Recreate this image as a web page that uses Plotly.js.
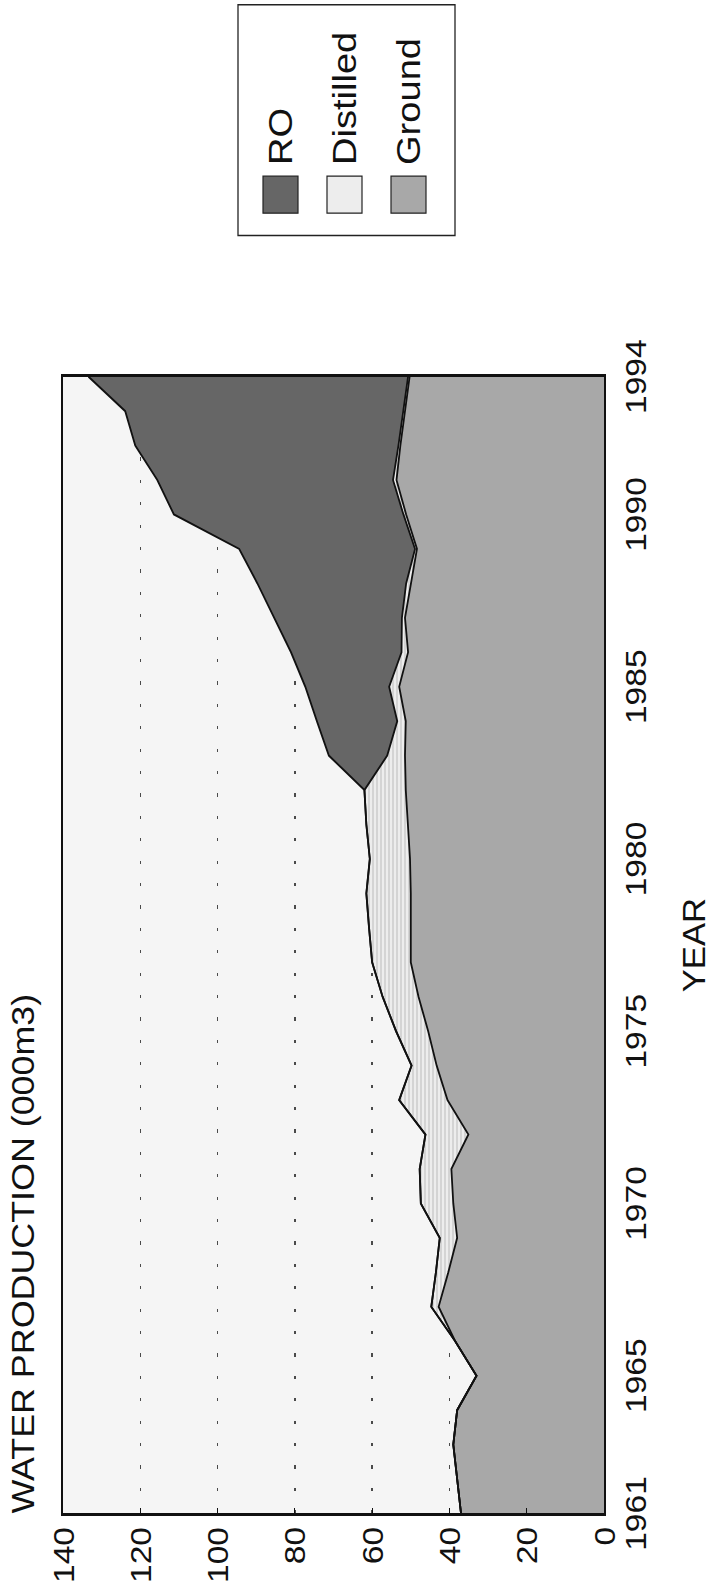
<!DOCTYPE html>
<html><head><meta charset="utf-8">
<script src="https://cdn.plot.ly/plotly-3.0.1.min.js"></script>
<style>
html,body{margin:0;padding:0;background:#fff;}
#wrap{position:relative;width:712px;height:1593px;overflow:hidden;background:#fff;}
#chart{position:absolute;left:0;top:0;width:1422px;height:712px;transform-origin:0 0;transform:translate(0px,1593px) rotate(-90deg) scale(1.12,1);}
</style></head><body>
<div id="wrap"><div id="chart"></div></div>
<script>
// ---- data ----
const years = [1961,1962,1963,1964,1965,1966,1967,1968,1969,1970,1971,1972,1973,1974,1975,1976,1977,1978,1979,1980,1981,1982,1983,1984,1985,1986,1987,1988,1989,1990,1991,1992,1993,1994];
const ground = [37,38,39,38,33,38.5,42.8,40.3,38,39,39.5,35.1,40.5,43.3,45.5,48,50,50,50,50.2,50.8,51.3,51.5,51.3,53,50.7,51.5,50,48.4,51.2,53.7,52.7,51.5,50.3];
const distilled = [0,0,0,0,0,0,1.9,3.2,4.5,8.4,8.2,11.1,12.5,6.5,8.3,9.3,10,10.8,11.5,10.4,10.7,10.7,4.6,2.2,2.6,1.7,0.8,1.2,0.5,0.7,0.9,0.5,0.4,0.4];
const ro = [0,0,0,0,0,0,0,0,0,0,0,0,0,0,0,0,0,0,0,0,0,0,15.1,20.8,21.7,28.6,33,38.5,45.5,59.4,61,68.1,72,82.7];
const seriesNames = ['RO','Distilled','Ground'];
const yearTicks = [1961,1965,1970,1975,1980,1985,1990,1994];
const valueTicks = [0,20,40,60,80,100,120,140];
const titleText = 'WATER PRODUCTION (000m3)';
const xTitle = 'YEAR';

// ---- styling ----
const colRO = '#666666', colDist = '#ededed', colGround = '#a8a8a8';
const W = 1422, H = 712, L = 71, R = 336, T = 63, B = 108;
const plotW = W - L - R, plotH = H - T - B;
const px = xi => (xi - L) / plotW;
const py = yo => 1 - (yo - T) / plotH;
const FONT = '"Liberation Sans", Arial, Helvetica, sans-serif';
const lineStyle = {color:'#111', width:1.8};

const traces = [
  {x: years, y: ground, name: seriesNames[2], type:'scatter', mode:'lines', stackgroup:'one',
   line: lineStyle, fillcolor: colGround, showlegend:false, hoverinfo:'x+y+name'},
  {x: years, y: distilled, name: seriesNames[1], type:'scatter', mode:'lines', stackgroup:'one',
   line: lineStyle, fillcolor: colDist,
   fillpattern:{shape:'-', bgcolor:colDist, fgcolor:'#c4c4c4', size:4, solidity:0.3},
   showlegend:false, hoverinfo:'x+y+name'},
  {x: years, y: ro, name: seriesNames[0], type:'scatter', mode:'lines', stackgroup:'one',
   line: lineStyle, fillcolor: colRO, showlegend:false, hoverinfo:'x+y+name'}
];

// legend drawn as shapes + text
const swatches = [
  {name: seriesNames[0], y0:263, y1:298, fill: colRO},
  {name: seriesNames[1], y0:327, y1:362, fill: colDist},
  {name: seriesNames[2], y0:391, y1:426, fill: colGround}
];
const shapes = [
  {type:'rect', xref:'paper', yref:'paper', x0:px(1212), x1:px(1418), y0:py(455), y1:py(238),
   line:{color:'#222', width:1.3}, fillcolor:'rgba(0,0,0,0)'}
];
const annotations = [];
swatches.forEach(s => {
  shapes.push({type:'rect', xref:'paper', yref:'paper', x0:px(1232), x1:px(1265), y0:py(s.y1), y1:py(s.y0),
    line:{color:'#222', width:1.2}, fillcolor:s.fill});
  annotations.push({xref:'paper', yref:'paper', x:px(1273), y:py((s.y0+s.y1)/2 - 1), xanchor:'left', yanchor:'middle',
    text:s.name, showarrow:false, font:{family:FONT, size:34, color:'#111'}});
});

const layout = {
  width: W, height: H,
  margin: {l:L, r:R, t:T, b:B, pad:0},
  paper_bgcolor:'#ffffff', plot_bgcolor:'#f5f5f5',
  font: {family: FONT, color:'#111'},
  showlegend:false,
  title: {text: titleText, font:{family:FONT, size:32, color:'#111'},
          xref:'paper', x:0, xanchor:'left', yref:'container', y:1-12/H, yanchor:'top', pad:{t:0,b:0,l:0,r:0}},
  xaxis: {range:[1961,1994], tickmode:'array', tickvals: yearTicks, ticktext: yearTicks.map(String),
          ticks:'', showgrid:false, zeroline:false, showline:true, mirror:true, linecolor:'#111', linewidth:2,
          tickfont:{family:FONT, size:30, color:'#111'}, ticklabelstandoff:4,
          title:{text:xTitle, font:{family:FONT, size:31, color:'#111'}, standoff:32}, automargin:false},
  yaxis: {range:[0,140], tickmode:'array', tickvals: valueTicks, ticktext: valueTicks.map(String),
          ticks:'inside', ticklen:5, tickcolor:'#111', tickwidth:1.2,
          showgrid:true, gridcolor:'#4a4a4a', gridwidth:1.3, griddash:'3px,17px',
          zeroline:false, showline:true, mirror:true, linecolor:'#111', linewidth:2,
          tickfont:{family:FONT, size:30, color:'#111'}, ticklabelstandoff:4, automargin:false},
  shapes: shapes,
  annotations: annotations
};

Plotly.newPlot('chart', traces, layout, {staticPlot:true, responsive:false, displayModeBar:false});
</script>
</body></html>
